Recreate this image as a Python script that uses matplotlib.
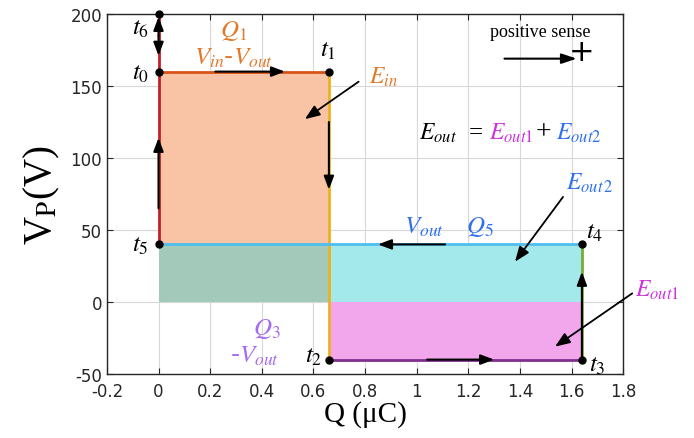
import matplotlib
matplotlib.use("Agg")
import matplotlib.pyplot as plt

plt.rcParams['mathtext.fontset'] = 'stix'
plt.rcParams['axes.unicode_minus'] = False

# Cycle points (Q in uC, V in V)
pt_names = ['t_0', 't_1', 't_2', 't_3', 't_4', 't_5', 't_6']
pt_q = [0.0, 0.66, 0.66, 1.64, 1.64, 0.0, 0.0]
pt_v = [160, 160, -40, -40, 40, 40, 200]
lbl_q = [-0.07, 0.655, 0.60, 1.70, 1.69, -0.07, -0.07]
lbl_v = [160, 176, -37, -43, 49, 40, 191]

# Energy regions: (q0, q1, v0, v1)
reg_q0 = [0.0, 0.0, 0.66, 0.66]
reg_q1 = [0.66, 0.66, 1.64, 1.64]
reg_v0 = [40, 0, 0, -40]
reg_v1 = [160, 40, 40, 0]
reg_col = ['#f9c3a6', '#a2c9b9', '#a3e9ec', '#f2a6ec']

xticks = [-0.2, 0, 0.2, 0.4, 0.6, 0.8, 1, 1.2, 1.4, 1.6, 1.8]
xticklabels = ['-0.2', '0', '0.2', '0.4', '0.6', '0.8', '1', '1.2', '1.4', '1.6', '1.8']
yticks = [-50, 0, 50, 100, 150, 200]

fig = plt.figure(figsize=(6.94, 4.39), dpi=100)
ax = fig.add_axes([0.154, 0.1458, 0.744, 0.82])

for q0, q1, v0, v1, c in zip(reg_q0, reg_q1, reg_v0, reg_v1, reg_col):
    ax.fill_between([q0, q1], [v0, v0], [v1, v1], color=c, lw=0, zorder=1)

# cycle edges
seg = [((0, 40), (0, 200), '#c0202a'),
       ((0, 160), (0.66, 160), '#d95319'),
       ((0.66, 160), (0.66, -40), '#edb120'),
       ((0.66, -40), (1.64, -40), '#7e2f8e'),
       ((1.64, -40), (1.64, 40), '#77ac30'),
       ((1.64, 40), (0, 40), '#4dbeee')]
for (a, b, c) in seg:
    ax.plot([a[0], b[0]], [a[1], b[1]], color=c, lw=2, zorder=3, solid_capstyle='butt')

# direction arrows
arr = [((0.22, 160), (0.49, 160)),
       ((0.66, 125), (0.66, 78)),
       ((1.04, -40), (1.30, -40)),
       ((1.64, -40), (1.64, 21)),
       ((1.11, 40), (0.85, 40)),
       ((0, 65), (0, 114)),
       ((0, 185), (0, 198)),
       ((0, 185), (0, 171))]
for s, e in arr:
    ax.annotate('', xy=e, xytext=s,
                arrowprops=dict(arrowstyle='-|>,head_length=0.8,head_width=0.3', color='black', lw=1.5, shrinkA=0, shrinkB=0),
                zorder=5)

ax.plot(pt_q, pt_v, 'o', color='black', ms=5, zorder=6, clip_on=False)
for n, x, y in zip(pt_names, lbl_q, lbl_v):
    ax.text(x, y, '$' + n + '$', fontsize=18, ha='center', va='center', zorder=7)

orange = '#e07a2a'
blue = '#2f6ff0'
mag = '#cc33dd'
purp = '#a46af0'
ax.text(0.29, 189, '$Q_1$', fontsize=18, color=orange, ha='center', va='center')
ax.text(0.29, 170, '$V_{in}$-$V_{out}$', fontsize=18, color=orange, ha='center', va='center')
ax.text(0.87, 157, '$E_{in}$', fontsize=17, color=orange, ha='center', va='center')
ax.text(1.03, 53, '$V_{out}$', fontsize=18, color=blue, ha='center', va='center')
ax.text(1.245, 53, '$Q_5$', fontsize=18, color=blue, ha='center', va='center')
ax.text(1.67, 83, '$E_{out\\,2}$', fontsize=17, color=blue, ha='center', va='center')
ax.text(1.93, 9, '$E_{out1}$', fontsize=17, color=mag, ha='center', va='center', clip_on=False)
ax.text(0.42, -18, '$Q_3$', fontsize=18, color=purp, ha='center', va='center')
ax.text(0.37, -37, '-$V_{out}$', fontsize=18, color=purp, ha='center', va='center')

ax.text(1.01, 118, '$E_{out}$', fontsize=17, color='black', ha='left', va='center')
ax.text(1.23, 118, '=', fontsize=18, color='black', ha='center', va='center', family='Liberation Serif')
ax.text(1.28, 118, '$E_{out1}$', fontsize=17, color=mag, ha='left', va='center')
ax.text(1.49, 118, '+', fontsize=20, color='black', ha='center', va='center', family='Liberation Serif')
ax.text(1.54, 118, '$E_{out2}$', fontsize=17, color=blue, ha='left', va='center')

ax.text(1.48, 188, 'positive sense', fontsize=13, family='Liberation Serif', ha='center', va='center')
ax.annotate('', xy=(1.62, 169), xytext=(1.34, 169),
            arrowprops=dict(arrowstyle='-|>,head_length=0.9,head_width=0.3', color='black', lw=1.5, shrinkA=0, shrinkB=0))
ax.text(1.64, 174, '+', fontsize=22, family='DejaVu Sans', ha='center', va='center')

# pointer arrows
ptrs = [((0.775, 153), (0.567, 127)),
        ((1.567, 73), (1.381, 28)),
        ((1.835, 6), (1.536, -31))]
for s, e in ptrs:
    ax.annotate('', xy=e, xytext=s,
                arrowprops=dict(arrowstyle='-|>,head_length=0.9,head_width=0.35', color='black', lw=1.3, shrinkA=0, shrinkB=0),
                annotation_clip=False, zorder=8)

ax.set_xlim(-0.2, 1.8)
ax.set_ylim(-50, 200)
ax.set_xticks(xticks)
ax.set_xticklabels(xticklabels)
ax.set_yticks(yticks)
ax.grid(True, color='#d8d8d8', lw=0.8, zorder=0)
ax.set_axisbelow(True)
ax.tick_params(direction='in', top=True, right=True, labelsize=12, colors='#262626', length=4)
ax.tick_params(axis='x', pad=6)
for s in ax.spines.values():
    s.set_color('#262626')
    s.set_linewidth(1.0)
ax.set_xlabel('Q (μC)', fontsize=21, family='Liberation Serif', labelpad=0)
ax.set_ylabel(r'V$_\mathrm{P}$(V)', fontsize=28, family='Liberation Serif', labelpad=6)

fig.savefig('out.png', dpi=100)
